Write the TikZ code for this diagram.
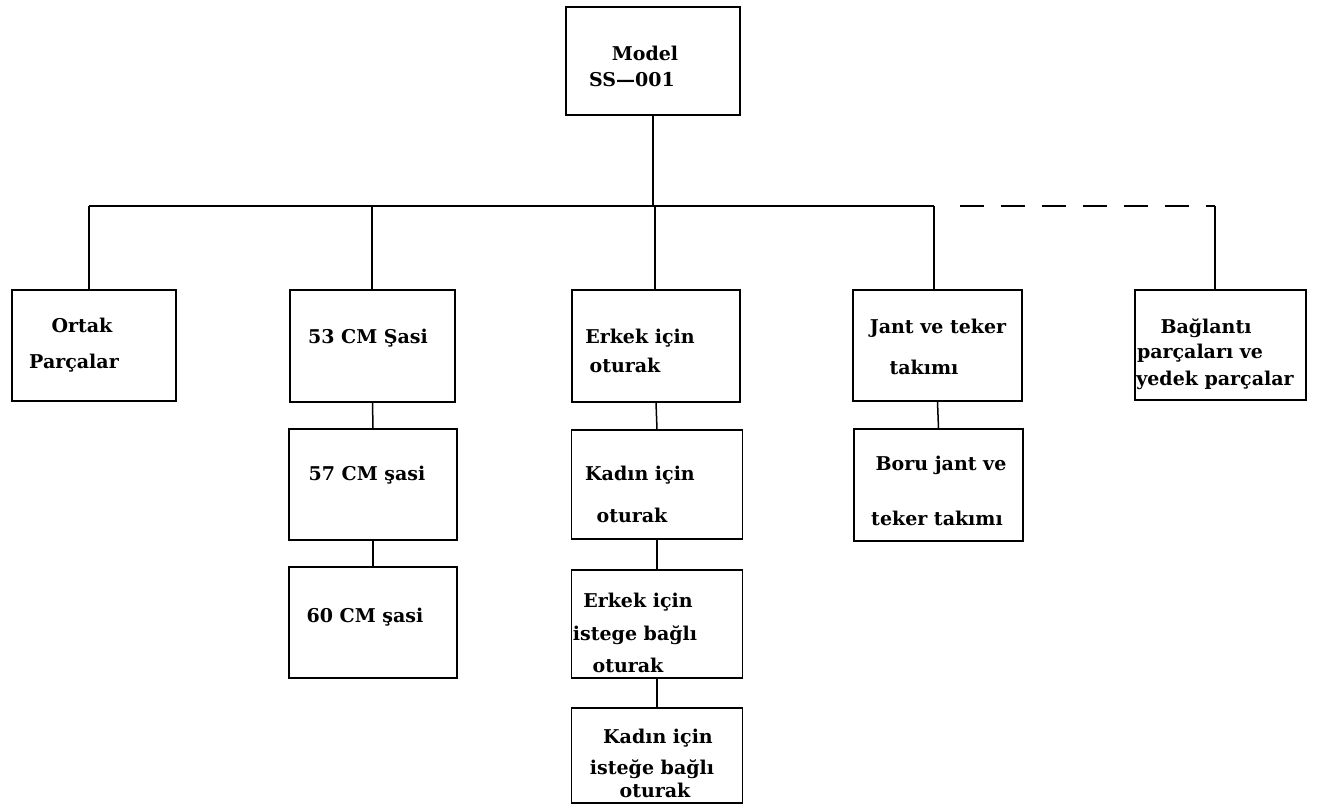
\documentclass[tikz,border=0pt]{standalone}
\usepackage{fontspec}
\setmainfont{DejaVu Serif}
\begin{document}
\begin{tikzpicture}[x=1pt,y=-1pt,
  box/.style={draw, line width=1.5pt, rectangle, inner sep=0pt},
  lbl/.style={font=\fontsize{19}{21}\selectfont\bfseries, inner sep=0pt, anchor=center},
  conn/.style={line width=1.5pt},
  dconn/.style={line width=1.5pt, dash pattern=on 24pt off 17pt}]
\useasboundingbox (0,0) rectangle (1323,807);
% boxes
\node[box, minimum width=174pt, minimum height=108pt] (top) at (653,61) {};
\node[box, minimum width=164pt, minimum height=111pt] (ortak) at (94,345.5) {};
\node[box, minimum width=165pt, minimum height=112pt] (s53) at (372.5,346) {};
\node[box, minimum width=168pt, minimum height=111pt] (s57) at (373,484.5) {};
\node[box, minimum width=168pt, minimum height=111pt] (s60) at (373,622.5) {};
\node[box, minimum width=168pt, minimum height=112pt] (e1) at (656,346) {};
\node[box, minimum width=171pt, minimum height=109pt] (k1) at (657,484.5) {};
\node[box, minimum width=171pt, minimum height=108pt] (e2) at (657,624) {};
\node[box, minimum width=171pt, minimum height=95pt] (k2) at (657,755.5) {};
\node[box, minimum width=169pt, minimum height=111pt] (jant) at (937.5,345.5) {};
\node[box, minimum width=169pt, minimum height=112pt] (boru) at (938.5,485) {};
\node[box, minimum width=171pt, minimum height=110pt] (bag) at (1220.5,345) {};
% texts
\node[lbl] (t1) at (645,53) {Model};
\node[lbl] (t2) at (632,80) {SS—001};
\node[lbl] (t3) at (82,325) {Ortak};
\node[lbl] (t4) at (74,363) {Parçalar};
\node[lbl] (t5) at (368,338) {53 CM Şasi};
\node[lbl] (t6) at (367,475) {57 CM şasi};
\node[lbl] (t7) at (365,617) {60 CM şasi};
\node[lbl] (t8) at (640,338) {Erkek için};
\node[lbl] (t9) at (625,365) {oturak};
\node[lbl] (t10) at (640,475) {Kadın için};
\node[lbl] (t11) at (632,515) {oturak};
\node[lbl] (t12) at (638,602) {Erkek için};
\node[lbl] (t13) at (635,635) {istege bağlı};
\node[lbl] (t14) at (628,665) {oturak};
\node[lbl] (t15) at (658,738) {Kadın için};
\node[lbl] (t16) at (652,769) {isteğe bağlı};
\node[lbl] (t17) at (655,790) {oturak};
\node[lbl] (t18) at (938,328) {Jant ve teker};
\node[lbl] (t19) at (924,367) {takımı};
\node[lbl] (t20) at (941,465) {Boru jant ve};
\node[lbl] (t21) at (937,518) {teker takımı};
\node[lbl] (t22) at (1206,328) {Bağlantı};
\node[lbl] (t23) at (1200,353) {parçaları ve};
\node[lbl] (t24) at (1215,380) {yedek parçalar};
% bus coordinates
\coordinate (bus) at (653,206);
\coordinate (bL) at (89,206);
\coordinate (b53) at (372,206);
\coordinate (be) at (655,206);
\coordinate (bj) at (934,206);
\coordinate (bd) at (960,206);
\coordinate (bb) at (1215,206);
% connectors
\draw[conn] (top.south) -- (bus);
\draw[conn] (bL) -- (bj);
\draw[conn] (bL) -- (bL |- ortak.north);
\draw[conn] (b53) -- (b53 |- s53.north);
\draw[conn] (be) -- (be |- e1.north);
\draw[conn] (bj) -- (bj |- jant.north);
\draw[dconn] (bd) -- (bb);
\draw[conn] (bb) -- (bb |- bag.north);
\draw[conn] (s53.south) -- (s57.north);
\draw[conn] (s57.south) -- (s60.north);
\draw[conn] (e1.south) -- (k1.north);
\draw[conn] (k1.south) -- (e2.north);
\draw[conn] (e2.south) -- (k2.north);
\draw[conn] (jant.south) -- (boru.north);
\end{tikzpicture}
\end{document}
